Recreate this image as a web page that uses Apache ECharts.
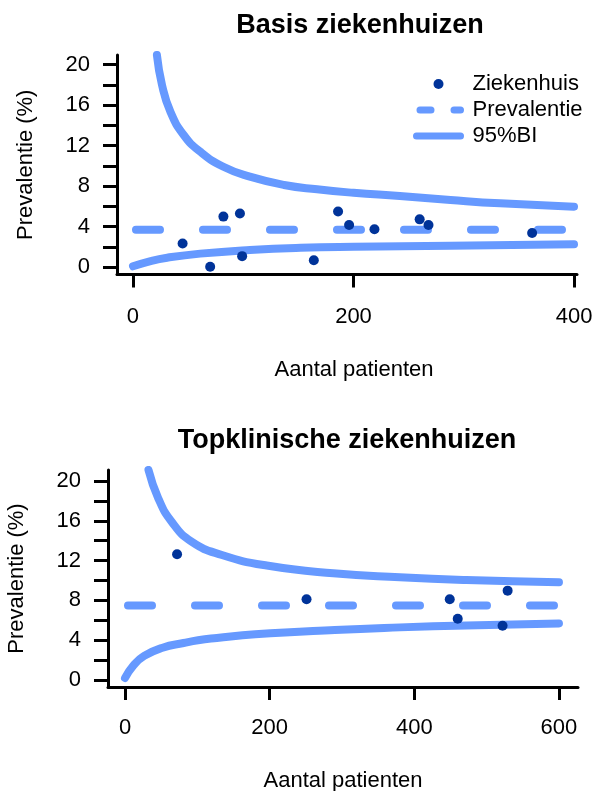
<!DOCTYPE html>
<html>
<head>
<meta charset="utf-8">
<script src="https://cdn.jsdelivr.net/npm/echarts@6/dist/echarts.min.js"></script>
<style>
html,body{margin:0;padding:0;background:#fff;}
#c{width:596px;height:791px;}
</style>
</head>
<body>
<div id="c"></div>
<script>
// ---- Data: Basis ziekenhuizen ----
const basisN = [45, 70, 82, 97, 99, 164, 186, 196, 219, 260, 268, 362];
const basisP = [2.35, 0.05, 5.0, 5.3, 1.1, 0.7, 5.5, 4.17, 3.75, 4.73, 4.17, 3.38];
const basisPrev = 3.7;
const basisPrevN = [0, 400];
const basisUpperN = [21.7, 26.3, 33.9, 46, 61, 82, 106, 137, 167, 200, 242, 288, 333, 400];
const basisUpperP = [20.94, 18.0, 15.35, 13.05, 11.4, 9.92, 8.94, 8.12, 7.69, 7.35, 7.03, 6.64, 6.31, 5.98];
const basisLowerN = [0, 16, 31, 61, 106, 152, 200, 288, 400];
const basisLowerP = [0.1, 0.62, 0.95, 1.35, 1.71, 1.93, 2.03, 2.12, 2.27];

// ---- Data: Topklinische ziekenhuizen ----
const topN = [72, 251, 449, 460, 522, 529];
const topP = [12.63, 8.11, 8.11, 6.16, 5.46, 8.98];
const topPrev = 7.5;
const topPrevN = [0, 600];
const topUpperN = [32.5, 46, 64.5, 92, 134, 196, 288, 380, 472, 600];
const topUpperP = [21.1, 18.26, 15.9, 13.9, 12.56, 11.5, 10.72, 10.32, 10.05, 9.82];
const topLowerN = [0, 11.5, 26.5, 52, 81, 101, 127, 180, 290, 380, 472, 600];
const topLowerP = [0.2, 1.45, 2.42, 3.25, 3.72, 4.0, 4.22, 4.59, 5.03, 5.29, 5.49, 5.69];

// ---- Axis ticks ----
const yTicks = [0, 2, 4, 6, 8, 10, 12, 14, 16, 18, 20];
const yLabels = [0, 4, 8, 12, 16, 20];
const basisXTicks = [0, 200, 400];
const topXTicks = [0, 200, 400, 600];

const names = {dots: 'Ziekenhuis', prev: 'Prevalentie', ci: '95%BI'};
const titles = ['Basis ziekenhuizen', 'Topklinische ziekenhuizen'];
const xName = 'Aantal patienten';
const yName = 'Prevalentie (%)';

const FONT = "'Liberation Sans', Arial, sans-serif";
const LIGHT = '#6699ff';
const DARK = '#003399';

const zip = (a, b) => a.map((v, i) => [v, b[i]]);

function xAxis(idx, min, max, ticks, nameShift, margin, gap) {
  return {
    type: 'value', gridIndex: idx, min: min, max: max,
    name: xName, nameLocation: 'middle', nameGap: gap,
    nameTextStyle: {fontSize: 22, color: '#000', fontFamily: FONT, padding: [0, 0, 0, nameShift]},
    axisLine: {show: true, onZero: false, lineStyle: {color: '#000', width: 3}},
    axisTick: {show: true, length: 13, lineStyle: {color: '#000', width: 3}, customValues: ticks},
    axisLabel: {fontSize: 22, color: '#000', fontFamily: FONT, margin: margin, customValues: ticks},
    splitLine: {show: false}
  };
}
function yAxis(idx, min, max, gap) {
  return {
    type: 'value', gridIndex: idx, min: min, max: max,
    name: yName, nameLocation: 'middle', nameGap: gap,
    nameTextStyle: {fontSize: 22, color: '#000', fontFamily: FONT},
    axisLine: {show: true, onZero: false, lineStyle: {color: '#000', width: 3}},
    axisTick: {show: true, length: 14, lineStyle: {color: '#000', width: 3}, customValues: yTicks},
    axisLabel: {fontSize: 22, color: '#000', fontFamily: FONT, margin: 27, customValues: yLabels},
    splitLine: {show: false}
  };
}
function ciLine(idx, data) {
  return {
    name: names.ci, type: 'line', xAxisIndex: idx, yAxisIndex: idx,
    data: data, showSymbol: false, symbol: 'none', smooth: 0.5,
    lineStyle: {color: LIGHT, width: 8, cap: 'round', join: 'round'}, itemStyle: {color: LIGHT},
    silent: true, z: 2
  };
}
function prevLine(idx, ns, p) {
  return {
    name: names.prev, type: 'line', xAxisIndex: idx, yAxisIndex: idx,
    data: ns.map(n => [n, p]), showSymbol: false, symbol: 'none',
    lineStyle: {color: LIGHT, width: 8, cap: 'round', type: [24, 43], dashOffset: -3},
    itemStyle: {color: LIGHT}, silent: true, z: 2
  };
}
function dots(idx, ns, ps) {
  return {
    name: names.dots, type: 'scatter', xAxisIndex: idx, yAxisIndex: idx,
    data: zip(ns, ps), symbol: 'circle', symbolSize: 10,
    itemStyle: {color: DARK, opacity: 1}, z: 3
  };
}

const chart = echarts.init(document.getElementById('c'), null, {renderer: 'canvas'});
chart.setOption({
  backgroundColor: '#fff',
  animation: false,
  title: [
    {text: titles[0], left: 355, top: 7, textAlign: 'center',
     textStyle: {fontSize: 27, fontWeight: 'bold', color: '#000', fontFamily: FONT}},
    {text: titles[1], left: 342, top: 422, textAlign: 'center',
     textStyle: {fontSize: 27, fontWeight: 'bold', color: '#000', fontFamily: FONT}}
  ],
  legend: {
    orient: 'vertical', left: 408, top: 68, itemWidth: 44, itemHeight: 10, itemGap: 4,
    textStyle: {fontSize: 22, color: '#000', fontFamily: FONT, padding: [0, 0, 0, 7], lineHeight: 22},
    data: [
      {name: names.dots, icon: 'circle', itemStyle: {color: DARK}},
      {name: names.prev, itemStyle: {opacity: 0},
       lineStyle: {color: LIGHT, width: 7, cap: 'round', type: [11, 23], dashOffset: -3.5}},
      {name: names.ci, itemStyle: {opacity: 0},
       lineStyle: {color: LIGHT, width: 7, cap: 'round', type: 'solid'}}
    ]
  },
  grid: [
    {left: 117, top: 55, width: 460, height: 219.5, containLabel: false, outerBoundsMode: 'none'},
    {left: 108, top: 470, width: 470, height: 217, containLabel: false, outerBoundsMode: 'none'}
  ],
  xAxis: [
    xAxis(0, -14.5, 402.7, basisXTicks, 14, 31, 84),
    xAxis(1, -23.5, 626.3, topXTicks, 0, 30, 83)
  ],
  yAxis: [
    yAxis(0, -0.71, 20.94, 80),
    yAxis(1, -0.70, 21.1, 80)
  ],
  series: [
    ciLine(0, zip(basisUpperN, basisUpperP)),
    ciLine(0, zip(basisLowerN, basisLowerP)),
    prevLine(0, basisPrevN, basisPrev),
    dots(0, basisN, basisP),
    ciLine(1, zip(topUpperN, topUpperP)),
    ciLine(1, zip(topLowerN, topLowerP)),
    prevLine(1, topPrevN, topPrev),
    dots(1, topN, topP)
  ]
});
</script>
</body>
</html>
